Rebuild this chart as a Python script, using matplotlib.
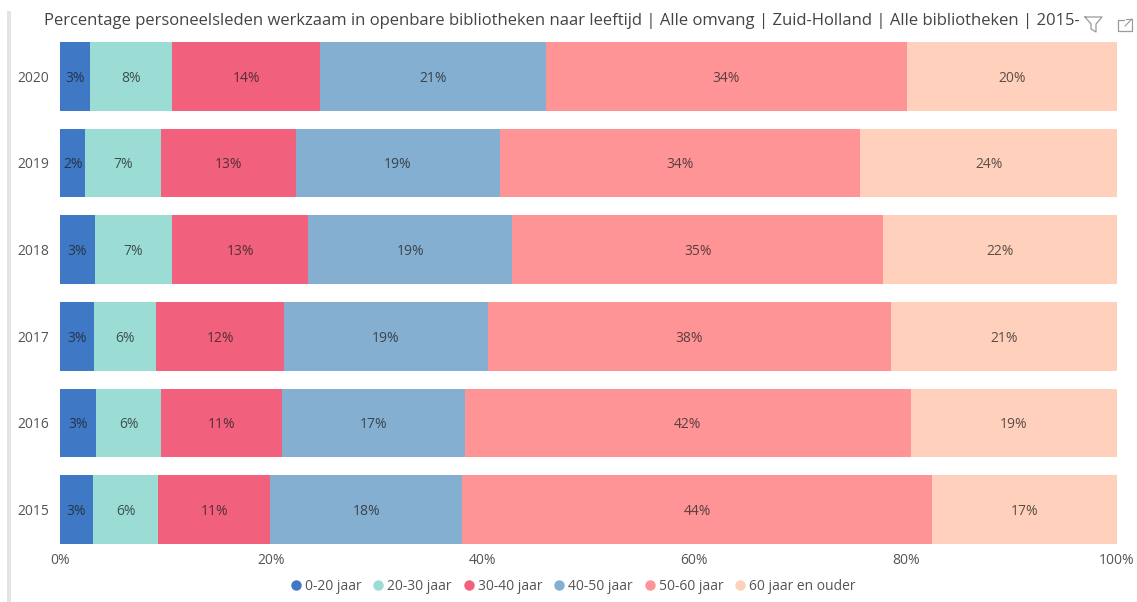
import matplotlib
matplotlib.use("Agg")
import matplotlib.pyplot as plt
from matplotlib.lines import Line2D
from matplotlib.patches import Rectangle
import numpy as np

W, H = 1137, 602
plt.rcParams['font.family'] = ['Open Sans', 'DejaVu Sans']

years = ['2020', '2019', '2018', '2017', '2016', '2015']
series_names = ['0-20 jaar', '20-30 jaar', '30-40 jaar', '40-50 jaar', '50-60 jaar', '60 jaar en ouder']
s0 = [2.8, 2.4, 3.3, 3.2, 3.4, 3.1]
s1 = [7.8, 7.2, 7.3, 5.9, 6.2, 6.2]
s2 = [14.0, 12.7, 12.9, 12.1, 11.4, 10.6]
s3 = [21.4, 19.3, 19.3, 19.3, 17.3, 18.15]
s4 = [34.1, 34.1, 35.1, 38.1, 42.2, 44.45]
s5 = [19.9, 24.3, 22.1, 21.4, 19.49, 17.49]
colors = ['#3F78C4', '#9BDCD5', '#F1607C', '#85AFD0', '#FF9497', '#FFD0BB']
xticks = [0, 20, 40, 60, 80, 100]
title = 'Percentage personeelsleden werkzaam in openbare bibliotheken naar leeftijd | Alle omvang | Zuid-Holland | Alle bibliotheken | 2015-2020'

fig = plt.figure(figsize=(W / 100, H / 100), dpi=100, facecolor='white')
def px(x0, y0, x1, y1):
    return [x0 / W, 1 - y1 / H, (x1 - x0) / W, (y1 - y0) / H]

ax = fig.add_axes(px(60, 33, 1117, 553))
left = np.zeros(len(years))
y = np.arange(len(years))
for vals, c, name in zip([s0, s1, s2, s3, s4, s5], colors, series_names):
    vals = np.array(vals)
    ax.barh(y, vals, left=left, height=0.796, color=c, label=name, linewidth=0)
    for yi, v, l in zip(y, vals, left):
        ax.text(l + v / 2, yi, f'{round(v)}%', ha='center', va='center_baseline',
                fontsize=10, color='#1c1c1c', alpha=0.72)
    left += vals
ax.set_xlim(0, 100)
ax.set_ylim(len(years) - 0.5, -0.5)
ax.set_yticks(y, years)
ax.set_xticks(xticks, [f'{t}%' for t in xticks])
ax.tick_params(length=0, labelsize=10, labelcolor='#555555')
ax.tick_params(axis='x', pad=0)
ax.tick_params(axis='y', pad=7.5)
for s in ax.spines.values():
    s.set_visible(False)

# report-tile furniture
fig.add_artist(Rectangle((7 / W, 0), 3.5 / W, 1 - 11 / H, transform=fig.transFigure,
                         facecolor='#E4E4E4', edgecolor='none'))
t = fig.text(44 / W, 1 - 21 / H, title, fontsize=11.95, color='#444444', va='center', ha='left')
t.set_clip_path(Rectangle((0, 0), 1079, H, transform=None))
t.set_clip_on(True)

def line(xs, ys, color='#9a9a9a', lw=0.9):
    fig.add_artist(Line2D([x / W for x in xs], [1 - v / H for v in ys],
                          color=color, lw=lw, transform=fig.transFigure))
line([1085, 1102, 1096, 1096, 1091, 1091, 1085], [17, 17, 24, 32, 29, 24, 17])
line([1124, 1118, 1118, 1132, 1132], [20, 20, 31, 31, 26])
line([1126, 1132, 1132], [19, 19, 25], lw=0.8)
line([1125, 1132], [26, 19], lw=0.8)

handles = [Line2D([], [], ls='none', marker='o', ms=7.5, color=c, mew=0) for c in colors]
fig.legend(handles, series_names, loc='center', ncol=6,
           bbox_to_anchor=(573 / W, 1 - 586 / H), frameon=False, fontsize=10,
           labelcolor='#555555', handlelength=0.8, handletextpad=0.25,
           columnspacing=0.82, borderpad=0, borderaxespad=0)

fig.savefig('out.png', dpi=100, facecolor='white')
